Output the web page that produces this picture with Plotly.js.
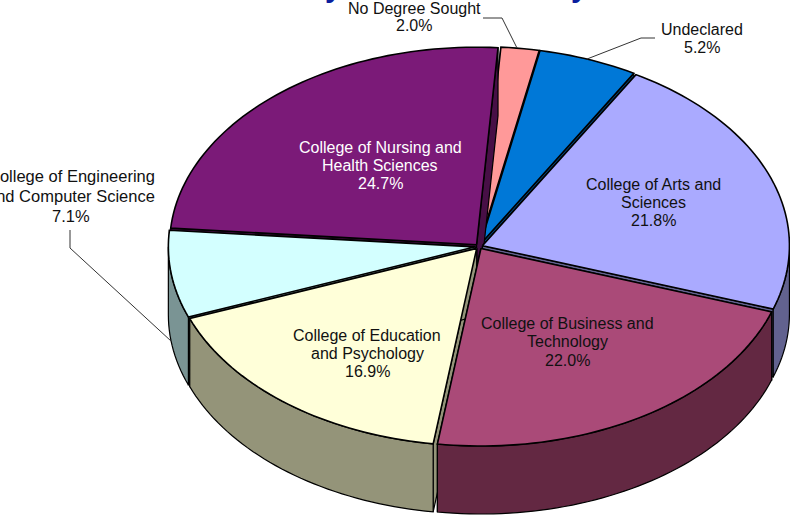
<!DOCTYPE html>
<html><head><meta charset="utf-8">
<script src="https://cdn.plot.ly/plotly-3.0.1.min.js"></script>
<style>html,body{margin:0;padding:0;background:#fff;overflow:hidden}#c{width:790px;height:515px}</style>
</head><body><div id="c"></div>
<script>
// Data, clockwise from the first slice
const categories = [["No Degree Sought"],["Undeclared"],["College of Arts and","Sciences"],["College of Business and","Technology"],["College of Education","and Psychology"],["College of Engineering","and Computer Science"],["College of Nursing and","Health Sciences"]];
const values = [2.0,5.2,21.8,22.0,16.9,7.1,24.7];
const topColors = ["#FF9999","#0078D7","#AAAAFF","#AA4A78","#FFFFD9","#D3FFFF","#7B1A78"];
const sideColors = ["#949459","#00467D","#62628F","#632842","#949479","#7A9494","#470F46"];
const labelX = [414,702,653,567,367,71,380];
const labelTop = [8,29,184,323,335,176,147];
const labelStep = [18,18,18,18.5,18,20,18];
const labelSize = [16,16,16,16,16,16.5,16];
const labelColors = ["#111","#111","#111","#111","#111","#111","#fff"];

const W=790,H=515, cx=479, cy=246.5, rx=307, ry=197.5, depth=68/197.5, startDeg=4.0, explode=0.012;
const total = values.reduce((a,b)=>a+b,0);
const rad = d=>d*Math.PI/180;
let acc = startDeg;
const slices = values.map((v,i)=>{const a=acc,b=acc+v/total*360;acc=b;return {i,a,b,m:(a+b)/2};});
const arc=(a,b,ox,oy,dz)=>{const n=Math.max(2,Math.ceil((b-a)/1.5)),p=[];for(let k=0;k<=n;k++){const t=rad(a+(b-a)*k/n);p.push([ox+Math.sin(t),oy+Math.cos(t)-dz]);}return p;};
const traces=[];
const add=(pts,color,lw)=>{pts=pts.concat([pts[0]]);traces.push({type:'scatter',mode:'lines',x:pts.map(p=>p[0]),y:pts.map(p=>p[1]),fill:'toself',fillcolor:color,line:{color:'#000',width:lw,simplify:false},hoverinfo:'skip',showlegend:false});};
// painter's order, back to front
slices.slice().sort((p,q)=>Math.cos(rad(q.m))-Math.cos(rad(p.m))).forEach(s=>{
  const ox=explode*Math.sin(rad(s.m)), oy=explode*Math.cos(rad(s.m));
  const side=sideColors[s.i];
  [s.a,s.b].forEach(e=>{const t=rad(e),ex=ox+Math.sin(t),ey=oy+Math.cos(t);
    add([[ox,oy],[ex,ey],[ex,ey-depth],[ox,oy-depth]],side,1.2);});
  const wa=Math.max(s.a,90), wb=Math.min(s.b,270);
  if(wb>wa){add(arc(wa,wb,ox,oy,0).concat(arc(wa,wb,ox,oy,depth).reverse()),side,1.2);}
  add([[ox,oy]].concat(arc(s.a,s.b,ox,oy,0)),topColors[s.i],1.6);
});
const px=x=>x/W, py=y=>1-y/H;
const family='"Liberation Sans",Arial,sans-serif';
const annotations=[];
categories.forEach((c,i)=>{
  c.concat([values[i].toFixed(1)+'%']).forEach((line,k)=>annotations.push({xref:'paper',yref:'paper',x:px(labelX[i]),y:py(labelTop[i]+k*labelStep[i]),xanchor:'center',yanchor:'middle',showarrow:false,
    text:line,font:{family,size:labelSize[i],color:labelColors[i]}}));
});
// clipped descenders of the title at the top edge
[333,579].forEach(x=>annotations.push({xref:'paper',yref:'paper',x:px(x),y:py(-13),xanchor:'center',yanchor:'middle',showarrow:false,text:'y',font:{family,size:30,color:'#0A1E9E',weight:700}}));
const seg=(pts)=>pts.slice(1).map((p,k)=>({type:'line',xref:'paper',yref:'paper',x0:px(pts[k][0]),y0:py(pts[k][1]),x1:px(p[0]),y1:py(p[1]),line:{color:'#333',width:1},layer:'above'}));
const shapes=[].concat(seg([[483,18],[502,18],[517,48]]),seg([[587,59],[641,38],[655,38]]),seg([[70,230],[70,248],[171,341]]));
Plotly.newPlot('c',traces,{width:W,height:H,margin:{l:0,r:0,t:0,b:0},paper_bgcolor:'#fff',plot_bgcolor:'#fff',showlegend:false,
  xaxis:{visible:false,range:[(0-cx)/rx,(W-cx)/rx],fixedrange:true},
  yaxis:{visible:false,range:[(cy-H)/ry,cy/ry],fixedrange:true},
  annotations,shapes},{displayModeBar:false,staticPlot:true});
</script></body></html>
